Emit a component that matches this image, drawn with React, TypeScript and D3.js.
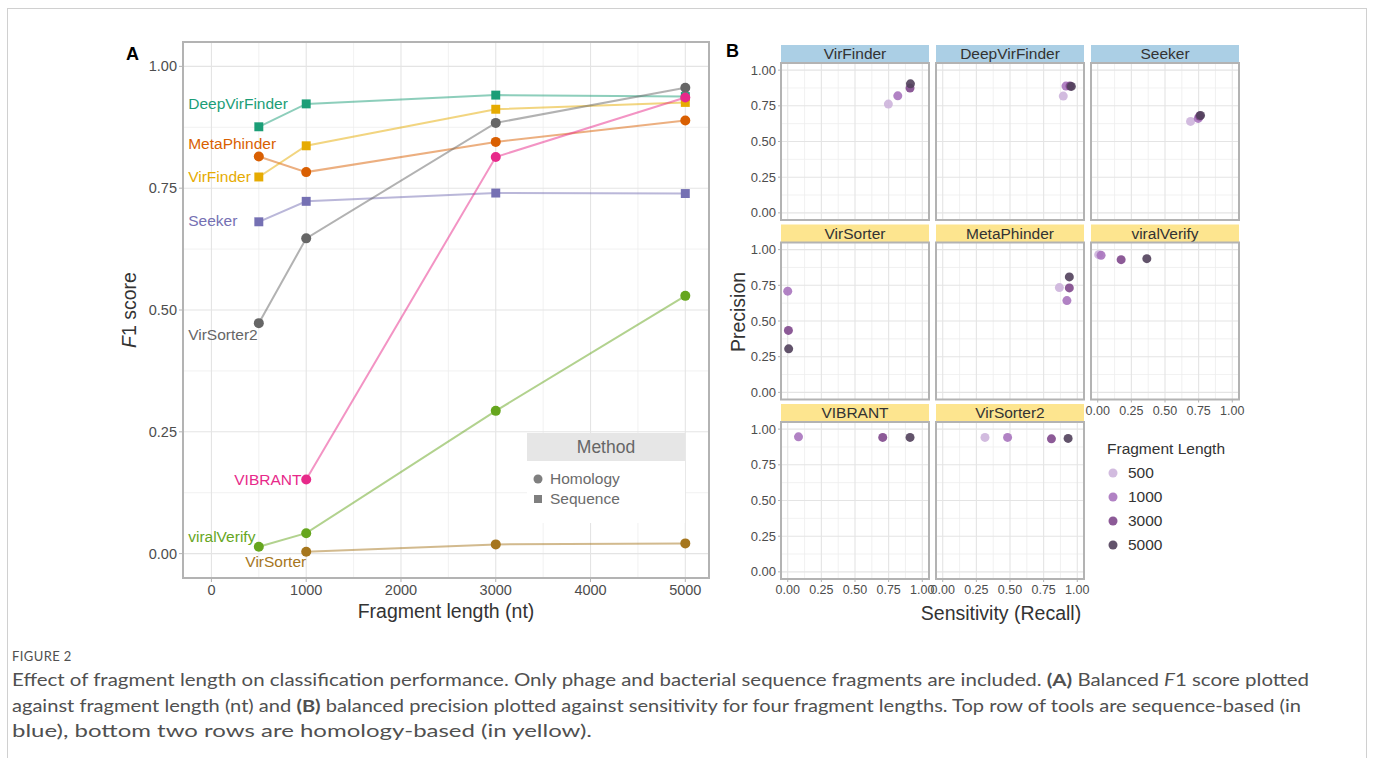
import React from 'react';
import * as d3 from 'd3';

// fragment lengths (nt)
const fragLen = [500, 1000, 3000, 5000];

// panel A: balanced F1 score per tool
const tools = ['DeepVirFinder', 'MetaPhinder', 'VirFinder', 'Seeker', 'VirSorter2', 'viralVerify', 'VirSorter', 'VIBRANT'];
const toolMethod = ['Sequence', 'Homology', 'Sequence', 'Sequence', 'Homology', 'Homology', 'Homology', 'Homology'];
const toolColor = ['#1b9e77', '#d95f02', '#e6ab02', '#7570b3', '#666666', '#66a61e', '#a6761d', '#e7298a'];

const f1DeepVirFinder = [0.876, 0.923, 0.941, 0.938];
const f1MetaPhinder = [0.815, 0.783, 0.845, 0.889];
const f1VirFinder = [0.773, 0.837, 0.912, 0.926];
const f1Seeker = [0.681, 0.723, 0.740, 0.739];
const f1VirSorter2 = [0.473, 0.647, 0.884, 0.956];
const f1viralVerify = [0.014, 0.042, 0.293, 0.529];
const f1VirSorter = [null, 0.004, 0.019, 0.021];
const f1VIBRANT = [null, 0.152, 0.814, 0.936];
const f1 = [f1DeepVirFinder, f1MetaPhinder, f1VirFinder, f1Seeker, f1VirSorter2, f1viralVerify, f1VirSorter, f1VIBRANT];

// where each tool name sits (data units) and how it is anchored
const labelX = [-245, -245, -245, -245, -245, -245, 1000, 950];
const labelY = [0.924, 0.842, 0.773, 0.684, 0.449, 0.035, -0.017, 0.152];
const labelAnchor = ['start', 'start', 'start', 'start', 'start', 'start', 'end', 'end'];

// panel B: precision vs sensitivity, one facet per tool
const facets = ['VirFinder', 'DeepVirFinder', 'Seeker', 'VirSorter', 'MetaPhinder', 'viralVerify', 'VIBRANT', 'VirSorter2'];
const facetGroup = ['seq', 'seq', 'seq', 'hom', 'hom', 'hom', 'hom', 'hom'];

const senVirFinder = [0.748, 0.818, 0.909, 0.912];
const precVirFinder = [0.762, 0.820, 0.874, 0.904];
const senDeepVirFinder = [0.896, 0.916, 0.946, 0.956];
const precDeepVirFinder = [0.818, 0.888, 0.888, 0.886];
const senSeeker = [0.690, 0.747, 0.757, 0.764];
const precSeeker = [0.641, 0.662, 0.678, 0.683];
const senVirSorter = [null, 0.0, 0.005, 0.007];
const precVirSorter = [null, 0.709, 0.434, 0.305];
const senMetaPhinder = [0.867, 0.923, 0.941, 0.941];
const precMetaPhinder = [0.734, 0.643, 0.732, 0.809];
const senviralVerify = [0.007, 0.025, 0.174, 0.365];
const precviralVerify = [0.965, 0.960, 0.930, 0.937];
const senVIBRANT = [null, 0.08, 0.706, 0.909];
const precVIBRANT = [null, 0.946, 0.942, 0.942];
const senVirSorter2 = [0.314, 0.482, 0.808, 0.932];
const precVirSorter2 = [0.942, 0.942, 0.932, 0.935];
const sens = [senVirFinder, senDeepVirFinder, senSeeker, senVirSorter, senMetaPhinder, senviralVerify, senVIBRANT, senVirSorter2];
const precs = [precVirFinder, precDeepVirFinder, precSeeker, precVirSorter, precMetaPhinder, precviralVerify, precVIBRANT, precVirSorter2];

const lenColor = ['#cdb4dc', '#a874be', '#80488c', '#51405b'];

const axisTicksA = [0, 1000, 2000, 3000, 4000, 5000];
const axisTicks01 = [0, 0.25, 0.5, 0.75, 1];

const captionLines = [
  'Effect of fragment length on classification performance. Only phage and bacterial sequence fragments are included. ',
  'against fragment length (nt) and ',
  'blue), bottom two rows are homology-based (in yellow).',
];

const SANS = 'Liberation Sans, Arial, Helvetica, sans-serif';
const GRID = '#e4e4e4';
const GRID_MINOR = '#eeeeee';
const BORDER = '#b3b3b3';
const AXTXT = '#4d4d4d';

export default function App() {
  const xA = d3.scaleLinear().domain([-300, 5250]).range([183, 709]);
  const yA = d3.scaleLinear().domain([-0.05, 1.05]).range([578, 42]);
  const line = d3.line<[number, number | null]>()
    .defined(d => d[1] != null)
    .x(d => xA(d[0]))
    .y(d => yA(d[1] as number));
  const square = d3.symbol(d3.symbolSquare, 80)();

  const colLeft = [781, 936, 1091];
  const rowTop = [63, 242.5, 422];
  const pw = 148, ph = 157, stripH = 18;

  const minorA = [500, 1500, 2500, 3500, 4500];
  const minorY = [0.125, 0.375, 0.625, 0.875];

  return (
    <svg width={1375} height={758} style={{ position: 'absolute', left: 0, top: 0, background: '#fff' }}
      fontFamily={SANS}>
      <rect x={7.5} y={8.5} width={1359} height={800} fill="#fff" stroke="#d0d0d0" />

      {/* ---------- panel A ---------- */}
      <text x={126} y={60} fontSize={18} fontWeight="bold" fill="#000">A</text>
      <g>
        {minorA.map(v => <line key={'mx' + v} x1={xA(v)} x2={xA(v)} y1={42} y2={578} stroke={GRID_MINOR} strokeWidth={0.8} />)}
        {minorY.map(v => <line key={'my' + v} x1={183} x2={709} y1={yA(v)} y2={yA(v)} stroke={GRID_MINOR} strokeWidth={0.8} />)}
        {axisTicksA.map(v => <line key={'gx' + v} x1={xA(v)} x2={xA(v)} y1={42} y2={578} stroke={GRID} strokeWidth={1.1} />)}
        {axisTicks01.map(v => <line key={'gy' + v} x1={183} x2={709} y1={yA(v)} y2={yA(v)} stroke={GRID} strokeWidth={1.1} />)}
      </g>
      {tools.map((t, i) => (
        <path key={'l' + t} d={line(fragLen.map((x, j) => [x, f1[i][j]]) as any) || ''} fill="none"
          stroke={toolColor[i]} strokeOpacity={0.5} strokeWidth={2} />
      ))}
      {tools.map((t, i) => fragLen.map((x, j) => {
        const v = f1[i][j];
        if (v == null) return null;
        return toolMethod[i] === 'Sequence'
          ? <path key={t + j} d={square || ''} transform={`translate(${xA(x)},${yA(v)})`} fill={toolColor[i]} />
          : <circle key={t + j} cx={xA(x)} cy={yA(v)} r={5} fill={toolColor[i]} />;
      }))}
      {tools.map((t, i) => (
        <text key={'t' + t} x={xA(labelX[i])} y={yA(labelY[i])} dy="0.35em" fontSize={15.5}
          textAnchor={labelAnchor[i] as any} fill={toolColor[i]}>{t}</text>
      ))}
      {/* legend */}
      <rect x={527} y={433} width={158} height={90} fill="#fff" />
      <rect x={527} y={433} width={158} height={28} fill="#e6e6e6" />
      <text x={606} y={447} dy="0.35em" textAnchor="middle" fontSize={17.5} fill="#666">Method</text>
      <circle cx={538} cy={479} r={4.5} fill="#7f7f7f" />
      <text x={550} y={479} dy="0.35em" fontSize={15.5} fill="#6b6b6b">Homology</text>
      <path d={d3.symbol(d3.symbolSquare, 64)() || ''} transform="translate(538,499)" fill="#7f7f7f" />
      <text x={550} y={499} dy="0.35em" fontSize={15.5} fill="#6b6b6b">Sequence</text>

      <rect x={183} y={42} width={526} height={536} fill="none" stroke={BORDER} strokeWidth={2} />
      {axisTicks01.map(v => (
        <g key={'ty' + v}>
          <line x1={179} x2={183} y1={yA(v)} y2={yA(v)} stroke={BORDER} />
          <text x={177} y={yA(v)} dy="0.35em" textAnchor="end" fontSize={14.5} fill={AXTXT}>{v.toFixed(2)}</text>
        </g>
      ))}
      {axisTicksA.map(v => (
        <g key={'tx' + v}>
          <line x1={xA(v)} x2={xA(v)} y1={578} y2={582} stroke={BORDER} />
          <text x={xA(v)} y={595} textAnchor="middle" fontSize={14.5} fill={AXTXT}>{v}</text>
        </g>
      ))}
      <text x={446} y={618} textAnchor="middle" fontSize={19.5} fill="#333">Fragment length (nt)</text>
      <text transform="translate(136,310) rotate(-90)" textAnchor="middle" fontSize={19.5} fill="#333">
        <tspan fontStyle="italic">F</tspan>1 score
      </text>

      {/* ---------- panel B ---------- */}
      <text x={726} y={57} fontSize={18} fontWeight="bold" fill="#000">B</text>
      {facets.map((f, k) => {
        const c = k % 3, r = Math.floor(k / 3);
        const x0 = colLeft[c], y0 = rowTop[r];
        const xB = d3.scaleLinear().domain([-0.05, 1.05]).range([x0, x0 + pw]);
        const yB = d3.scaleLinear().domain([-0.05, 1.05]).range([y0 + ph, y0]);
        const showX = r === 2 || (r === 1 && c === 2);
        return (
          <g key={f}>
            <rect x={x0} y={y0 - stripH} width={pw} height={stripH} fill={facetGroup[k] === 'seq' ? '#abcfe5' : '#fde58f'} />
            <text x={x0 + pw / 2} y={y0 - stripH / 2} dy="0.35em" textAnchor="middle" fontSize={15.5} fill="#333">{f}</text>
            {minorY.map(v => (
              <g key={'m' + v}>
                <line x1={xB(v)} x2={xB(v)} y1={y0} y2={y0 + ph} stroke={GRID_MINOR} strokeWidth={0.8} />
                <line x1={x0} x2={x0 + pw} y1={yB(v)} y2={yB(v)} stroke={GRID_MINOR} strokeWidth={0.8} />
              </g>
            ))}
            {axisTicks01.map(v => (
              <g key={'g' + v}>
                <line x1={xB(v)} x2={xB(v)} y1={y0} y2={y0 + ph} stroke={GRID} strokeWidth={1.1} />
                <line x1={x0} x2={x0 + pw} y1={yB(v)} y2={yB(v)} stroke={GRID} strokeWidth={1.1} />
              </g>
            ))}
            {fragLen.map((len, j) => {
              const sx = sens[k][j], py = precs[k][j];
              if (sx == null || py == null) return null;
              return <circle key={len} cx={xB(sx)} cy={yB(py)} r={4.5} fill={lenColor[j]} fillOpacity={0.9} />;
            })}
            <rect x={x0} y={y0} width={pw} height={ph} fill="none" stroke={BORDER} strokeWidth={2} />
            {c === 0 && axisTicks01.map(v => (
              <g key={'ty' + v}>
                <line x1={x0 - 3} x2={x0} y1={yB(v)} y2={yB(v)} stroke={BORDER} />
                <text x={x0 - 5} y={yB(v)} dy="0.35em" textAnchor="end" fontSize={13} fill={AXTXT}>{v.toFixed(2)}</text>
              </g>
            ))}
            {showX && axisTicks01.map(v => (
              <g key={'tx' + v}>
                <line x1={xB(v)} x2={xB(v)} y1={y0 + ph} y2={y0 + ph + 3} stroke={BORDER} />
                <text x={xB(v)} y={y0 + ph + 15} textAnchor="middle" fontSize={12.5} fill={AXTXT}>{v.toFixed(2)}</text>
              </g>
            ))}
          </g>
        );
      })}
      <text x={1001} y={620} textAnchor="middle" fontSize={19.5} fill="#333">Sensitivity (Recall)</text>
      <text transform="translate(745,312) rotate(-90)" textAnchor="middle" fontSize={19.5} fill="#333">Precision</text>
      <text x={1107} y={449} dy="0.35em" fontSize={15.5} fill="#333">Fragment Length</text>
      {fragLen.map((len, j) => (
        <g key={'lg' + len}>
          <circle cx={1113} cy={473 + j * 24} r={4.5} fill={lenColor[j]} fillOpacity={0.9} />
          <text x={1128} y={473 + j * 24} dy="0.35em" fontSize={15.5} fill="#333">{len}</text>
        </g>
      ))}

      {/* ---------- caption ---------- */}
      <g fontFamily="Lato, Open Sans, sans-serif" fill="#505050">
        <text x={12} y={661} fontSize={13} letterSpacing={0.4}>FIGURE 2</text>
        <text x={12} y={686} fontSize={17} textLength={1297} lengthAdjust="spacingAndGlyphs">
          {captionLines[0]}<tspan fontWeight="bold">(A)</tspan> Balanced <tspan fontStyle="italic">F</tspan>1 score plotted
        </text>
        <text x={12} y={712} fontSize={17} textLength={1289} lengthAdjust="spacingAndGlyphs">
          {captionLines[1]}<tspan fontWeight="bold">(B)</tspan> balanced precision plotted against sensitivity for four fragment lengths. Top row of tools are sequence-based (in
        </text>
        <text x={12} y={737} fontSize={17} textLength={580} lengthAdjust="spacingAndGlyphs">{captionLines[2]}</text>
      </g>
    </svg>
  );
}
